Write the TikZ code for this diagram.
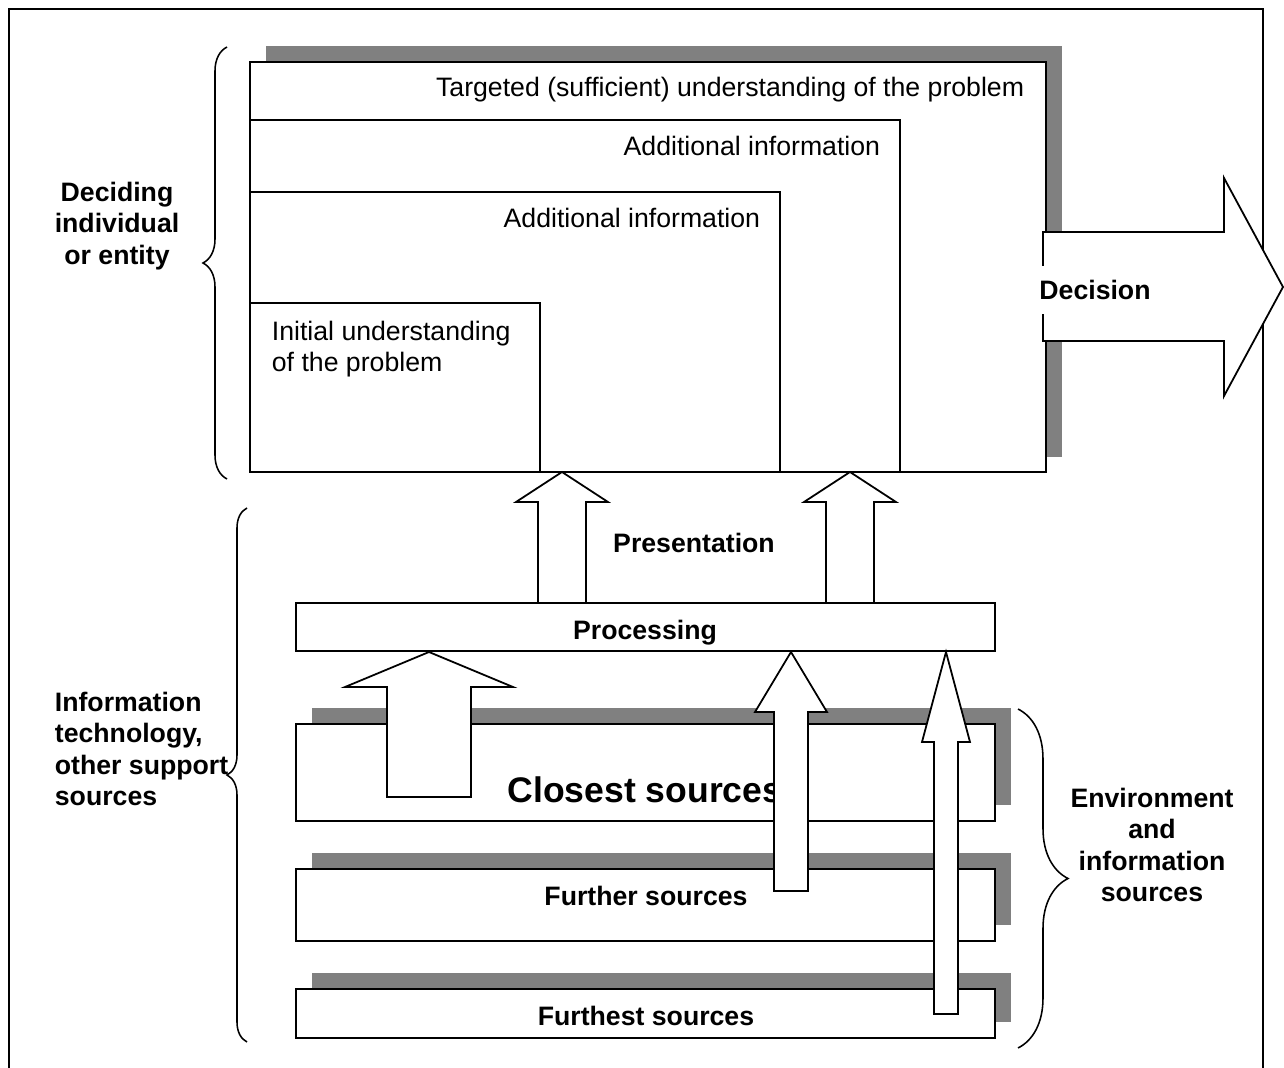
\documentclass[tikz,border=0pt]{standalone}
\usepackage{fontspec}
\setmainfont{Liberation Sans}
\usetikzlibrary{decorations.pathreplacing}
\definecolor{shadowgray}{RGB}{128,128,128}

\begin{document}
\begin{tikzpicture}[x=0.45pt,y=-0.45pt,line width=0.8pt]
\tikzstyle{box}=[draw,fill=white]
\tikzstyle{shadow}=[fill=shadowgray]
\tikzstyle{fat}=[draw,fill=white,line join=miter]
\tikzstyle{txt}=[inner sep=0pt,font=\fontsize{12}{14}\selectfont]
\tikzstyle{btxt}=[inner sep=0pt,font=\fontsize{12}{14}\selectfont\bfseries]
\tikzstyle{curly}=[decorate,line width=0.7pt]
\useasboundingbox (0,0) rectangle (1284,1068);
\draw (9,1068) -- (9,9) -- (1263,9) -- (1263,1068);

% the deciding side
\fill[shadow] (266,46) rectangle (1062,457);
\draw[box] (250,62) rectangle (1046,472);
\foreach \r/\t in {900/120, 780/192, 540/303}
  \draw (250,\t) rectangle (\r,472);
\node[txt,anchor=base east] (target) at (1025,97) {Targeted (sufficient) understanding of the problem};
\node[txt,anchor=base east] (addinfoA) at (881,156) {Additional information};
\node[txt,anchor=base east] (addinfoB) at (761,228) {Additional information};
\node[txt,anchor=west,align=left] (initial) at (271,349) {Initial understanding\\of the problem};

\draw[fat] (1043,232) -- (1224,232) -- (1224,178) -- (1283,287) -- (1224,396) -- (1224,341) -- (1043,341) -- cycle;
\node[btxt,fill=white,minimum height=21.6pt] (decision) at (1095,290) {Decision};

% processing and sources
\draw[box] (296,603) rectangle (995,651);
\node[btxt,anchor=base] (processing) at (645,639) {Processing};
\node[btxt,anchor=base] (presentation) at (694,552) {Presentation};

\foreach \name/\t/\b in {closest/724/821, further/869/941, furthest/989/1038} {
  \fill[shadow] (312,{\t-16}) rectangle (1011,{\b-16});
  \draw[box] (296,\t) rectangle (995,\b);
}
\node[btxt,anchor=base,font=\fontsize{16}{19}\selectfont\bfseries] (closest) at (645,802) {Closest sources};
\node[btxt,anchor=base] (further) at (646,905) {Further sources};
\node[btxt,anchor=base] (furthest) at (646,1025) {Furthest sources};

% block arrows: centre/half body/half head/tip/head base/bottom
\foreach \cx/\bw/\hw/\tip/\base/\bot in {562/24/46/472/502/603, 850/24/46/472/502/603, 429/42/84/652/687/797, 791/17/36/652/712/891, 946/12/24/652/742/1014}
  \draw[fat] ({\cx-\bw},\bot) -- ({\cx-\bw},\base) -- ({\cx-\hw},\base) -- (\cx,\tip)
    -- ({\cx+\hw},\base) -- ({\cx+\bw},\base) -- ({\cx+\bw},\bot) -- cycle;

% side labels
\node[btxt,align=center] (decider) at (117,226) {Deciding\\individual\\or entity};
\node[btxt,align=left,anchor=west] (itsupport) at (54,749) {Information\\technology,\\other support\\sources};
\node[btxt,align=center] (environment) at (1152,845) {Environment\\and\\information\\sources};
\draw[curly,decoration={brace,amplitude=10.8pt}] (227,479) -- (227,47);
\draw[curly,decoration={brace,amplitude=9pt}] (247,1042) -- (247,508);
\draw[curly,decoration={brace,amplitude=22.5pt}] (1018,709) -- (1018,1048);
\end{tikzpicture}
\end{document}
